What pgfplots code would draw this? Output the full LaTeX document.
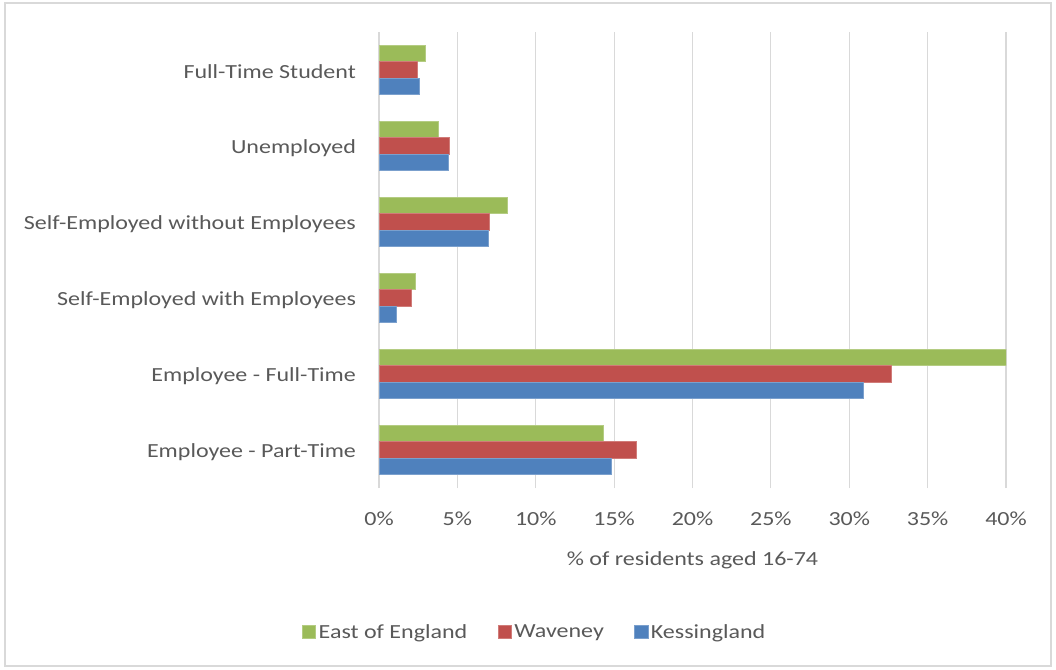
\documentclass[border=0pt]{standalone}
\usepackage{fontspec}
\setmainfont{Carlito}[FakeStretch=1.2]
\usepackage{pgfplots}
\pgfplotsset{compat=1.18}

\definecolor{cgreen}{RGB}{155,187,89}
\definecolor{cred}{RGB}{192,80,77}
\definecolor{cblue}{RGB}{79,129,189}
\definecolor{cgrid}{RGB}{217,217,217}
\definecolor{ctext}{RGB}{89,89,89}

\begin{document}
\begin{tikzpicture}
% page size and outer frame (1056 x 669 px at 0.75pt per px)
\path (0pt,0pt) rectangle (792pt,501.75pt);
\draw[cgrid,line width=1.2pt] (3.75pt,2.25pt) rectangle (788.25pt,499.5pt);
\begin{axis}[
  at={(284.25pt,135.75pt)}, anchor=south west,
  scale only axis,
  width=470.25pt, height=342pt,
  xbar, bar width=12.4pt,
  xmin=0, xmax=40,
  ymin=-0.5, ymax=5.5,
  xtick={0,5,...,40},
  xticklabels={0\%,5\%,10\%,15\%,20\%,25\%,30\%,35\%,40\%},
  ytick={0,1,2,3,4,5},
  yticklabels={Employee - Part-Time, Employee - Full-Time, Self-Employed with Employees, Self-Employed without Employees, Unemployed, Full-Time Student},
  xmajorgrids, grid style={cgrid, line width=0.9pt},
  axis line style={draw=none},
  tick style={draw=none},
  every tick label/.append style={font=\fontsize{15pt}{18pt}\selectfont, text=ctext},
  xticklabel style={yshift=-14pt},
  yticklabel style={xshift=-9.5pt, yshift=-1.5pt},
  xlabel={\% of residents aged 16-74},
  xlabel style={font=\fontsize{15pt}{18pt}\selectfont, text=ctext, yshift=-13pt},
  legend style={at={(0.249,-0.316)}, anchor=center, legend columns=3, draw=none,
    font=\fontsize{15pt}{18pt}\selectfont, text=ctext,
    /tikz/every even column/.append style={column sep=21pt}},
  legend image code/.code={\fill[#1] (-3pt,-4.9pt) rectangle (6.8pt,4.9pt);},
]
\addplot[fill=cgreen, draw=cgreen!75!white, line width=0.5pt, bar shift=12.4pt] coordinates {
  (14.3,0) (40.0,1) (2.32,2) (8.19,3) (3.79,4) (2.95,5)
};
\addplot[fill=cred, draw=cred!75!white, line width=0.5pt, bar shift=0pt] coordinates {
  (16.4,0) (32.7,1) (2.06,2) (7.04,3) (4.50,4) (2.47,5)
};
\addplot[fill=cblue, draw=cblue!75!white, line width=0.5pt, bar shift=-12.4pt] coordinates {
  (14.8,0) (30.9,1) (1.08,2) (6.97,3) (4.44,4) (2.57,5)
};
\legend{East of England, Waveney, Kessingland}
\end{axis}
\end{tikzpicture}
\end{document}
